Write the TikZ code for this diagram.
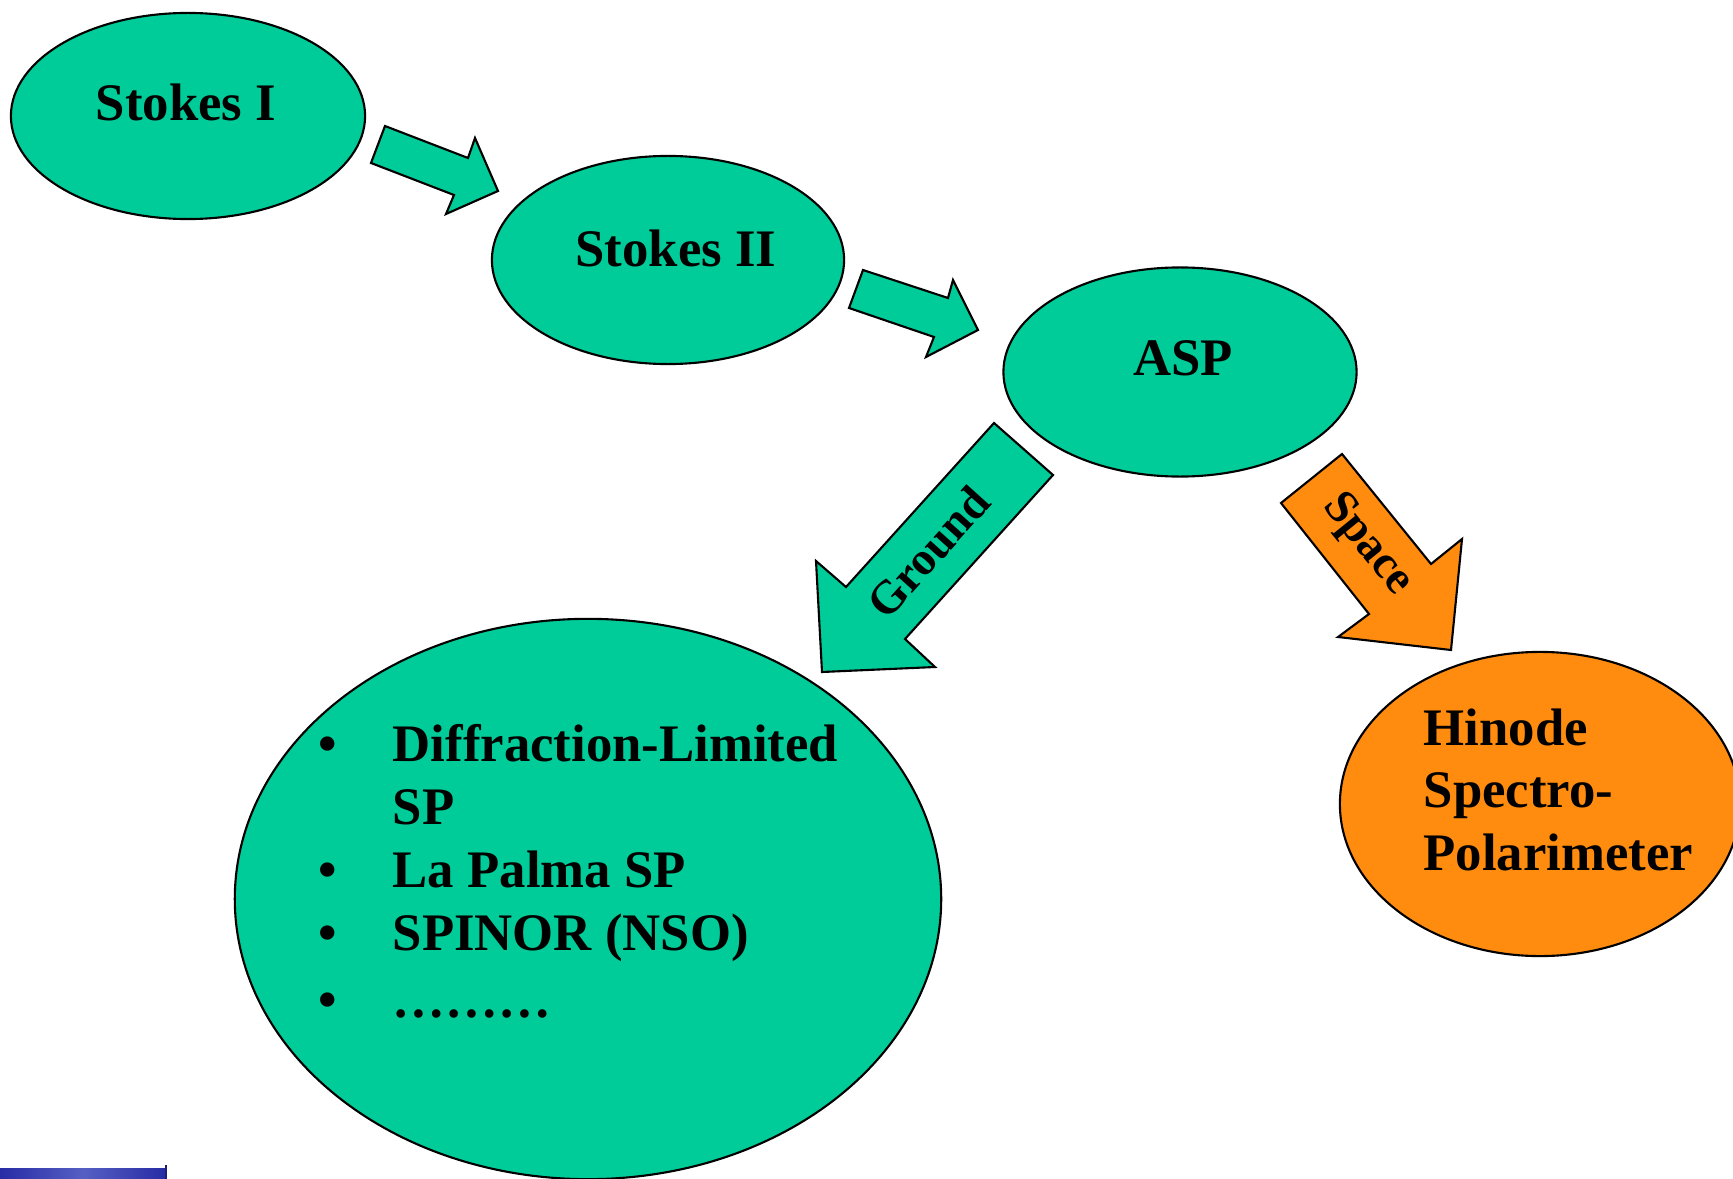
\documentclass[tikz,border=0pt]{standalone}
\usepackage{fontspec}
\setmainfont{Liberation Serif}
\usetikzlibrary{shapes.geometric}
\definecolor{bgreen}{RGB}{0,204,153}
\definecolor{borange}{RGB}{255,140,14}
\definecolor{bblue}{RGB}{40,44,165}
\definecolor{lblue}{RGB}{85,95,195}
\tikzset{
  oval/.style={ellipse, draw=black, line width=0.6pt, inner sep=0pt},
  lbl/.style={inner sep=0pt, font=\fontsize{15}{17.9}\selectfont\bfseries},
  arrowlbl/.style={inner sep=0pt, font=\fontsize{13.3}{16}\selectfont\bfseries},
  blockarrow/.style={draw=black, line width=0.6pt, line join=miter},
}
\begin{document}
\begin{tikzpicture}[x=0.01cm, y=-0.01cm]
\useasboundingbox (0,0) rectangle (1733,1179);
\clip (0,0) rectangle (1733,1179);

% ellipses
\node[oval, fill=bgreen, minimum width=3.54cm, minimum height=2.06cm] (s1) at (188,116) {};
\node[oval, fill=bgreen, minimum width=3.52cm, minimum height=2.08cm] (s2) at (668,260) {};
\node[oval, fill=bgreen, minimum width=3.53cm, minimum height=2.09cm] (asp) at (1180,372) {};
\node[oval, fill=bgreen, minimum width=7.06cm, minimum height=5.60cm] (ground) at (588,899) {};
\node[oval, fill=borange, minimum width=4.00cm, minimum height=3.04cm] (hinode) at (1540,804) {};

% texts
\node[lbl, anchor=base] (s1t) at (186,121) {Stokes I};
\node[lbl, anchor=base] (s2t) at (676,266) {Stokes II};
\node[lbl, anchor=base] (aspt) at (1183,375) {ASP};
\node[lbl, anchor=base west] (hint) at (1423,745)
  {\begin{tabular}[t]{@{}l@{}}Hinode\\Spectro-\\Polarimeter\end{tabular}};
\node[inner sep=0pt, anchor=base west, font=\fontsize{15}{18}\selectfont\bfseries] (list) at (318,761)
  {\begin{tabular}[t]{@{}p{0.74cm}@{}l@{}}
  • & Diffraction-Limited\\
    & SP\\
  • & La Palma SP\\
  • & SPINOR (NSO)\\[1pt]
  • & ………
  \end{tabular}};

% block arrows
\draw[blockarrow, fill=bgreen] (385,126) -- (468,158) -- (475,138) -- (498,191) -- (446,214) -- (454,195) -- (371,163) -- cycle;
\draw[blockarrow, fill=bgreen] (863,270) -- (948,298) -- (953,280) -- (978,330) -- (926,357) -- (934,337) -- (849,308) -- cycle;
\draw[blockarrow, fill=bgreen] (994,423) -- (1053,475) -- (905,639) -- (935,667) -- (822,672) -- (816,561) -- (846,587) -- cycle;
\draw[blockarrow, fill=borange] (1342,454) -- (1431,564) -- (1462,539) -- (1451,650) -- (1338,637) -- (1369,614) -- (1281,503) -- cycle;

\node[arrowlbl, rotate=48] (gt) at (928,552) {Ground};
\node[arrowlbl, rotate=-51] (st) at (1367,545) {Space};

% logo fragment bottom left
\shade[left color=bblue, right color=bblue, middle color=lblue] (0,1168) rectangle (166,1179);
\draw[bblue!70!black, line width=0.6pt] (166,1165) -- (166,1179);
\end{tikzpicture}
\end{document}
